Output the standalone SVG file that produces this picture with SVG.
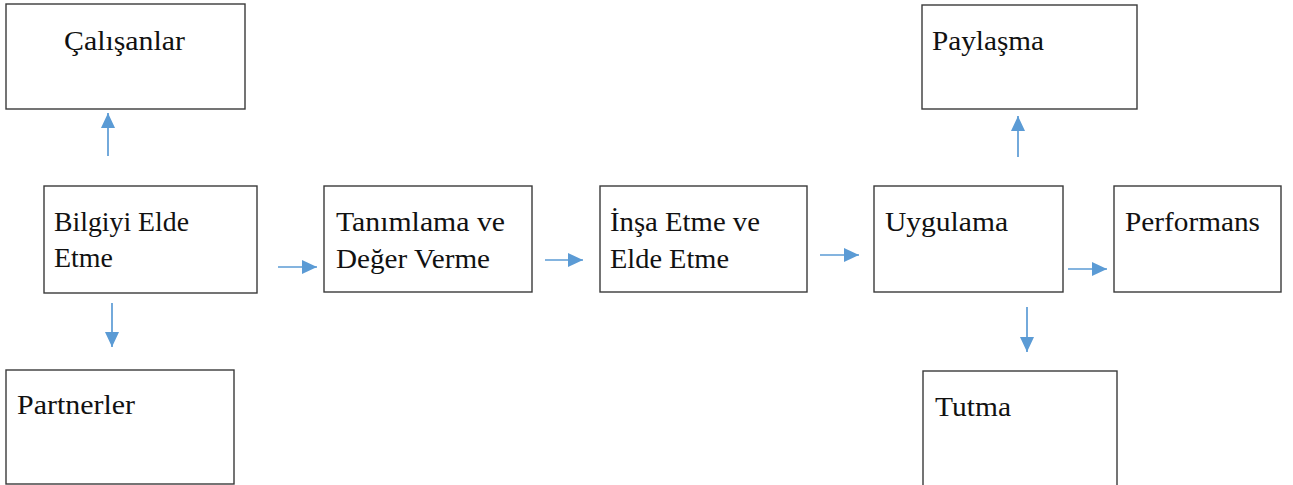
<svg xmlns="http://www.w3.org/2000/svg" width="1293" height="485" viewBox="0 0 1293 485">
  <style>
    .box { fill: #ffffff; stroke: #3a3a3a; stroke-width: 1.4; }
    .lbl { font-family: "Liberation Serif", "DejaVu Serif", serif; font-size: 27px; fill: #111111; }
    .conn { stroke: #5b9bd5; stroke-width: 1.7; fill: none; marker-end: url(#head); }
  </style>
  <defs>
    <marker id="head" markerUnits="userSpaceOnUse" markerWidth="15" markerHeight="14" refX="15" refY="7" orient="auto">
      <path d="M0,0 L15,7 L0,14 z" fill="#5b9bd5"/>
    </marker>
  </defs>

  <rect width="1293" height="485" fill="#ffffff"/>

  <g id="calisanlar">
    <rect class="box" x="6" y="4" width="239" height="105"/>
    <text class="lbl" x="64" y="50" textLength="121" lengthAdjust="spacingAndGlyphs">Çalışanlar</text>
  </g>

  <g id="bilgiyi-elde-etme">
    <rect class="box" x="44" y="186" width="213" height="107"/>
    <text class="lbl" x="54" y="231" textLength="135" lengthAdjust="spacingAndGlyphs">Bilgiyi Elde</text>
    <text class="lbl" x="54" y="267" textLength="59" lengthAdjust="spacingAndGlyphs">Etme</text>
  </g>

  <g id="partnerler">
    <rect class="box" x="6" y="370" width="228" height="114"/>
    <text class="lbl" x="17" y="414" textLength="118" lengthAdjust="spacingAndGlyphs">Partnerler</text>
  </g>

  <g id="tanimlama">
    <rect class="box" x="324" y="186" width="208" height="106"/>
    <text class="lbl" x="336" y="231" textLength="169" lengthAdjust="spacingAndGlyphs">Tanımlama ve</text>
    <text class="lbl" x="336" y="268" textLength="154" lengthAdjust="spacingAndGlyphs">Değer Verme</text>
  </g>

  <g id="insa-etme">
    <rect class="box" x="600" y="186" width="207" height="106"/>
    <text class="lbl" x="610" y="231" textLength="150" lengthAdjust="spacingAndGlyphs">İnşa Etme ve</text>
    <text class="lbl" x="610" y="268" textLength="119" lengthAdjust="spacingAndGlyphs">Elde Etme</text>
  </g>

  <g id="uygulama">
    <rect class="box" x="874" y="186" width="189" height="106"/>
    <text class="lbl" x="885" y="231" textLength="123" lengthAdjust="spacingAndGlyphs">Uygulama</text>
  </g>

  <g id="performans">
    <rect class="box" x="1114" y="186" width="167" height="106"/>
    <text class="lbl" x="1125" y="231" textLength="135" lengthAdjust="spacingAndGlyphs">Performans</text>
  </g>

  <g id="paylasma">
    <rect class="box" x="922" y="5" width="215" height="104"/>
    <text class="lbl" x="932" y="50" textLength="112" lengthAdjust="spacingAndGlyphs">Paylaşma</text>
  </g>

  <g id="tutma">
    <rect class="box" x="923" y="371" width="194" height="118"/>
    <text class="lbl" x="935" y="416" textLength="76" lengthAdjust="spacingAndGlyphs">Tutma</text>
  </g>

  <g id="connectors">
    <line class="conn" x1="108" y1="156" x2="108" y2="113"/>
    <line class="conn" x1="112" y1="303" x2="112" y2="347"/>
    <line class="conn" x1="278" y1="267" x2="317" y2="267"/>
    <line class="conn" x1="545" y1="260" x2="583" y2="260"/>
    <line class="conn" x1="820" y1="255" x2="859" y2="255"/>
    <line class="conn" x1="1068" y1="269" x2="1107" y2="269"/>
    <line class="conn" x1="1018" y1="157" x2="1018" y2="116"/>
    <line class="conn" x1="1027" y1="307" x2="1027" y2="352"/>
  </g>
</svg>
